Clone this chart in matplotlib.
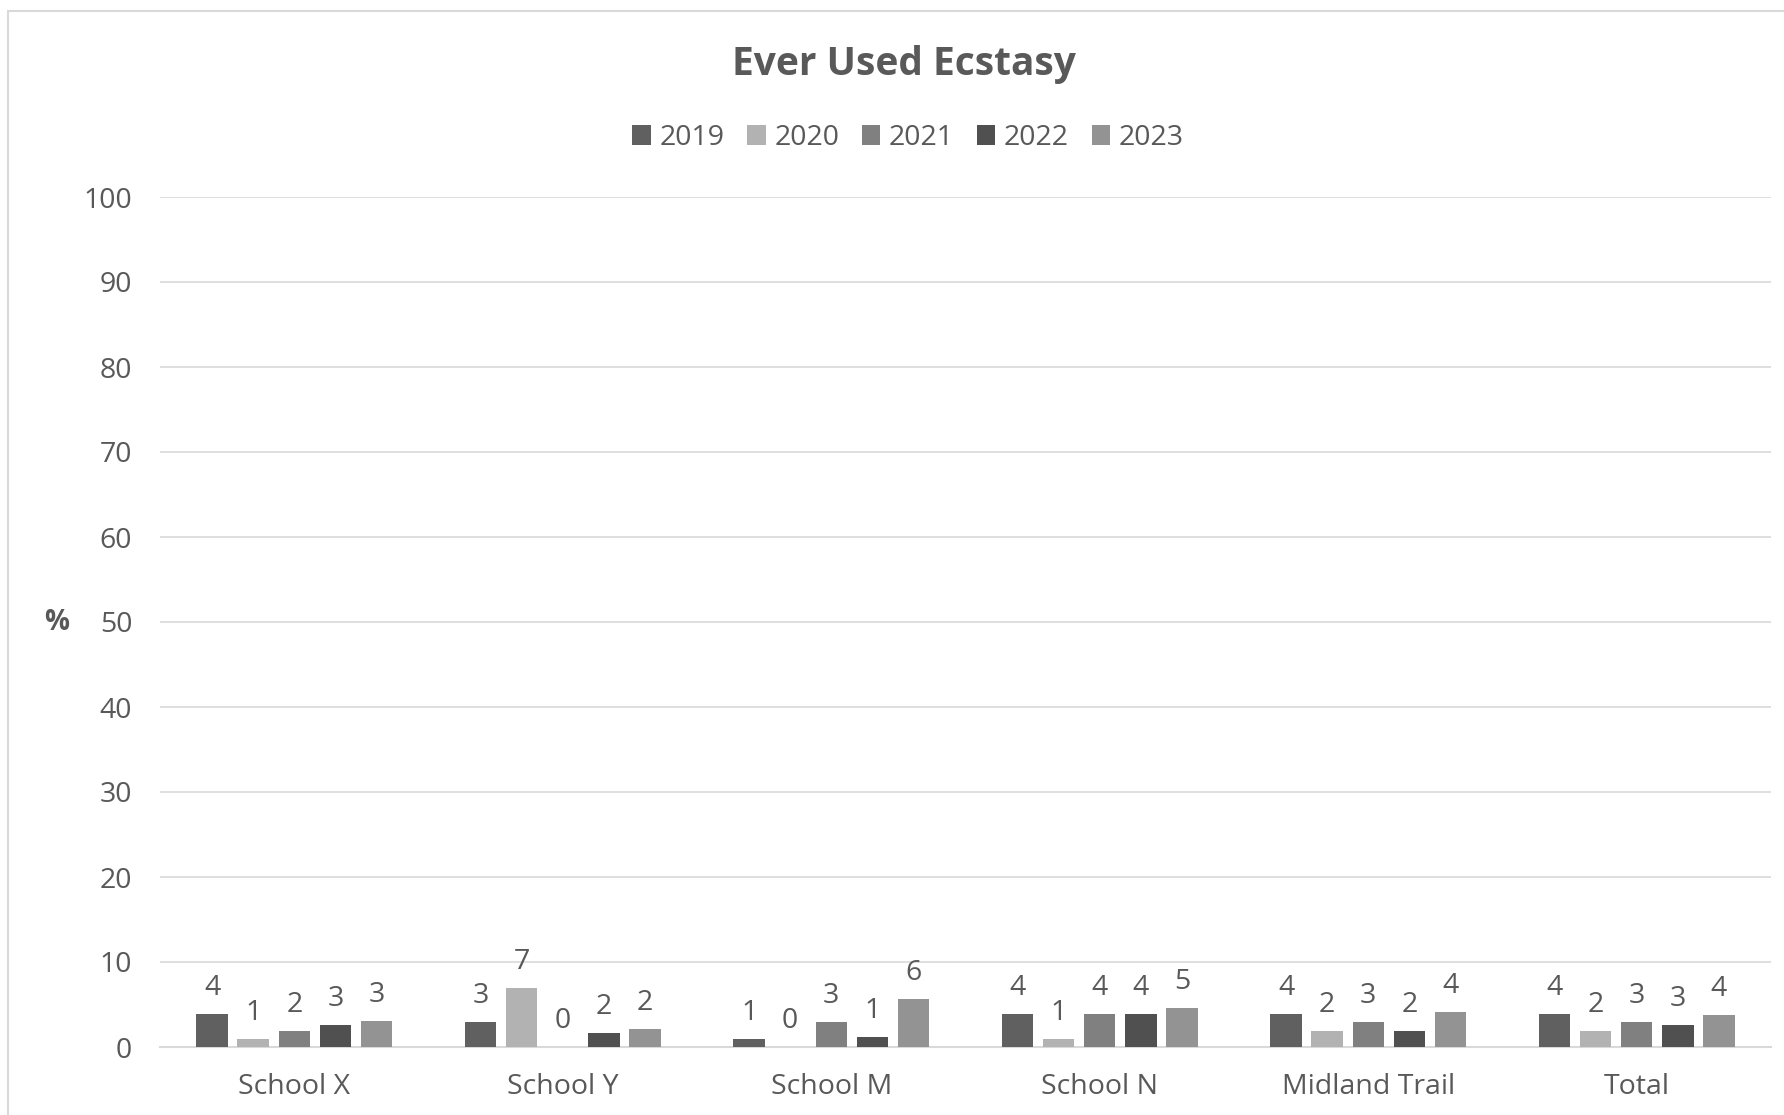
import numpy as np
import matplotlib
matplotlib.use("Agg")
import matplotlib.pyplot as plt
from matplotlib.patches import Rectangle

plt.rcParams['font.family'] = ['Open Sans', 'DejaVu Sans']

schools = ["School X", "School Y", "School M", "School N", "Midland Trail", "Total"]
years = ["2019", "2020", "2021", "2022", "2023"]
v2019 = [3.9, 2.9, 0.9, 3.9, 3.9, 3.9]
v2020 = [0.9, 6.9, 0.0, 0.9, 1.9, 1.9]
v2021 = [1.9, 0.0, 2.9, 3.9, 2.9, 2.9]
v2022 = [2.6, 1.6, 1.2, 3.9, 1.85, 2.6]
v2023 = [3.05, 2.1, 5.6, 4.6, 4.15, 3.8]
series = [v2019, v2020, v2021, v2022, v2023]
colors = ["#606060", "#b2b2b2", "#808080", "#505050", "#939393"]
txt = "#595959"

fig = plt.figure(figsize=(17.84, 11.15), dpi=100)
W, H = 1784, 1115
ax = fig.add_axes([160 / W, 1 - 1047 / H, (1771 - 160) / W, (1047 - 197) / H])

# chart border (cropped on right/bottom)
fig.patches.append(Rectangle((8 / W, -0.1), 1.2, 1 - 11 / H + 0.1, transform=fig.transFigure,
                             fill=False, edgecolor="#d9d9d9", linewidth=1.5))

x = np.arange(len(schools))
pitch = 0.153
width = 0.117
for i, (vals, yr, c) in enumerate(zip(series, years, colors)):
    pos = x + (i - 2) * pitch
    bars = ax.bar(pos, vals, width, color=c, label=yr, zorder=3)
    for b, v in zip(bars, vals):
        ax.text(b.get_x() + b.get_width() / 2, v + 1.4, "%.0f" % v, ha="center", va="bottom",
                fontsize=20.5, color=txt)

ax.set_xlim(-0.5, len(schools) - 0.5)
ax.set_ylim(0, 100)
ax.set_yticks(range(0, 101, 10))
ax.set_xticks(x)
ax.set_xticklabels(schools)
ax.tick_params(axis="both", length=0, labelsize=20.5, colors=txt)
ax.tick_params(axis="y", pad=20)
ax.tick_params(axis="x", pad=19)
ax.grid(axis="y", color="#d9d9d9", linewidth=1.2, zorder=0)
for s in ["top", "right", "left"]:
    ax.spines[s].set_visible(False)
ax.spines["bottom"].set_color("#d9d9d9")
ax.spines["bottom"].set_linewidth(1.5)

fig.text(57 / W, 1 - 622 / H, "%", ha="center", va="center", fontsize=20, color=txt, fontweight="bold")
fig.text(904 / W, 1 - 64 / H, "Ever Used Ecstasy", ha="center", va="center", fontsize=28,
         fontweight="bold", color=txt)

fig.legend(loc="center", bbox_to_anchor=(908 / W, 1 - 138 / H), ncol=5, frameon=False,
           fontsize=20.5, labelcolor=txt, handlelength=0.65, handleheight=0.65, handletextpad=0.3,
           columnspacing=0.8)

fig.savefig("out.png", dpi=100, facecolor="white")
